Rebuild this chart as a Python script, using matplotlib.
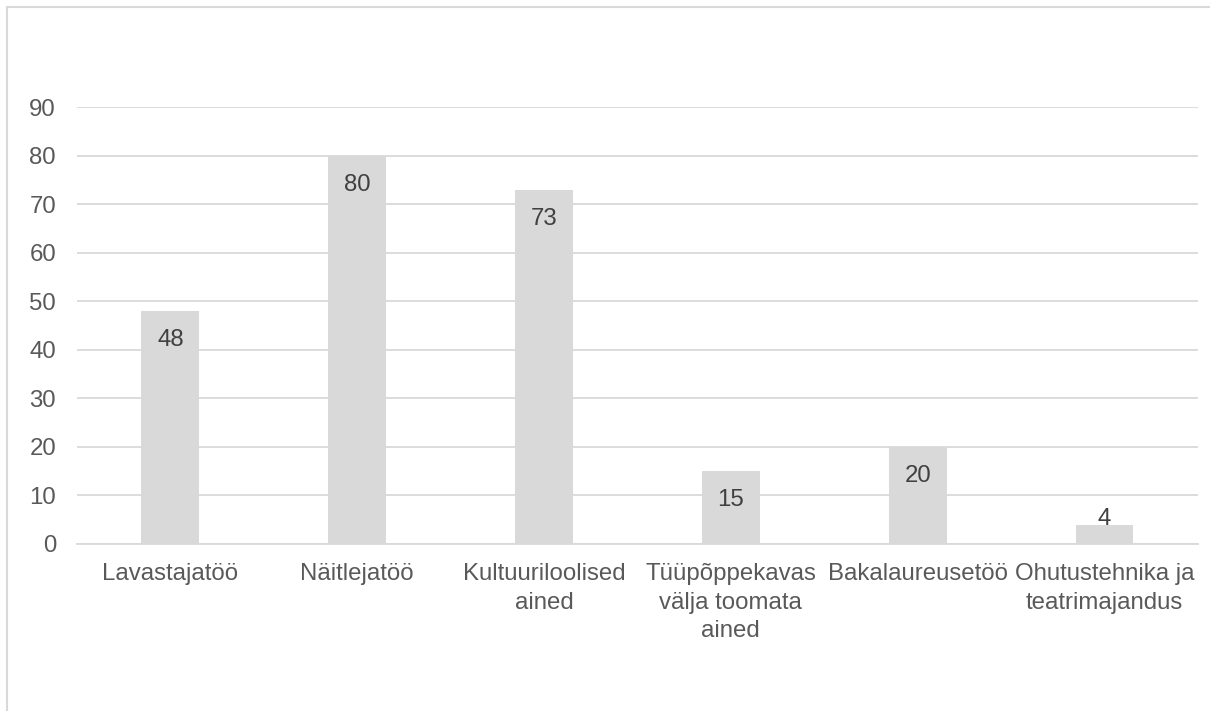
import matplotlib.pyplot as plt
from matplotlib.patches import Rectangle

# Andmed
kategooriad = ['Lavastajatöö', 'Näitlejatöö', 'Kultuuriloolised\nained',
               'Tüüpõppekavas\nvälja toomata\nained', 'Bakalaureusetöö',
               'Ohutustehnika ja\nteatrimajandus']
vaartused = [48, 80, 73, 15, 20, 4]
y_ticks = [0, 10, 20, 30, 40, 50, 60, 70, 80, 90]

plt.rcParams['font.family'] = ['Liberation Sans', 'DejaVu Sans']
fs = 17.3

fig = plt.figure(figsize=(12.1, 7.11), dpi=100)
ax = fig.add_axes([0.0636, 0.2349, 0.9264, 0.6146])

# raam ümber diagrammi
fig.patches.append(Rectangle((7 / 1210, -0.05), 1.1, 1 - 7 / 711 + 0.05,
                             transform=fig.transFigure, fill=False,
                             edgecolor='#d9d9d9', linewidth=1.5))

x = range(len(kategooriad))
bars = ax.bar(x, vaartused, width=0.31, color='#d9d9d9', zorder=2)

for b, v in zip(bars, vaartused):
    if v >= 10:
        ax.annotate(str(v), (b.get_x() + b.get_width() / 2, v),
                    xytext=(0, -13), textcoords='offset points',
                    ha='center', va='top', fontsize=fs, color='#404040')
    else:
        # liiga madal tulp - silt tulba kohal
        ax.annotate(str(v), (b.get_x() + b.get_width() / 2, v),
                    xytext=(0, -4), textcoords='offset points',
                    ha='center', va='bottom', fontsize=fs, color='#404040')

ax.set_xlim(-0.5, len(kategooriad) - 0.5)
ax.set_ylim(0, 90)
ax.set_yticks(y_ticks)
ax.set_xticks(list(x))
ax.set_xticklabels(kategooriad, fontsize=fs, color='#595959', linespacing=1.36)
ax.tick_params(axis='y', labelsize=fs, labelcolor='#595959', length=0, pad=15)
ax.tick_params(axis='x', length=0, pad=14)
ax.grid(axis='y', color='#d9d9d9', linewidth=1.3, zorder=0)
for s in ['top', 'right', 'left']:
    ax.spines[s].set_visible(False)
ax.spines['bottom'].set_color('#d9d9d9')
ax.spines['bottom'].set_linewidth(1.3)

fig.savefig('out.png')
